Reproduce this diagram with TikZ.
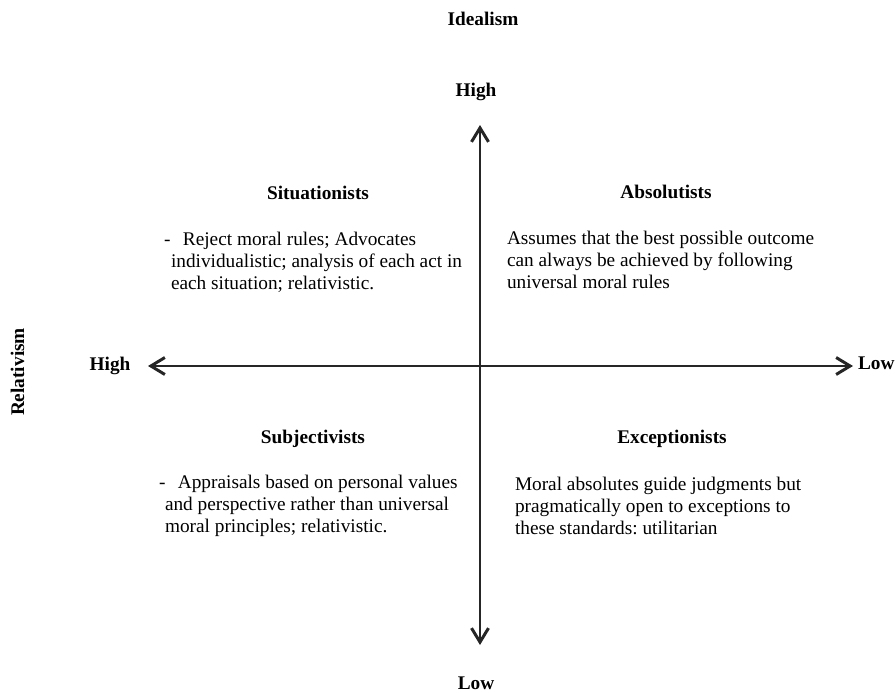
\documentclass[tikz,border=0pt]{standalone}
\usepackage{fontspec}
\setmainfont{Liberation Serif}
\usetikzlibrary{arrows.meta}
\frenchspacing
\begin{document}
\begin{tikzpicture}[x=1pt,y=-1pt,
  every node/.style={inner sep=0pt, outer sep=0pt, font=\fontsize{19.3}{22}\selectfont},
  heading/.style={anchor=base, font=\fontsize{19.3}{22}\selectfont\bfseries},
  % multi-line text: the base anchor sits on the last line
  bodytext/.style={anchor=base west, align=left},
  tip/.tip={Straight Barb[length=14pt,width=17pt,line width=3pt]},
  axis/.style={line width=1.2pt, draw=black!85, tip-tip}]
  \useasboundingbox (0,0) rectangle (895,693);

  % axis end points
  \coordinate (top) at (480,125);
  \coordinate (bottom) at (480,645);
  \coordinate (left) at (148,366);
  \coordinate (right) at (853,366);

  \draw[axis] (top) -- (bottom);
  \draw[axis] (left) -- (right);

  % axis titles and labels
  \node[heading] (idealism) at (483,26) {Idealism};
  \node[heading] (highv) at (476,96) {High};
  \node[heading] (lowv) at (476,689) {Low};
  \node[heading] (highh) at (110,370) {High};
  \node[heading, anchor=base west] (lowh) at (858,369) {Low};
  \node[heading, rotate=90] (relativism) at (24,372) {Relativism};

  % quadrant headings
  \node[heading] (situ) at (318,199) {Situationists};
  \node[heading] (abso) at (666,198) {Absolutists};
  \node[heading] (subj) at (313,443) {Subjectivists};
  \node[heading] (exce) at (672,443) {Exceptionists};

  % quadrant descriptions
  \node[bodytext] (situtext) at (171,289)
    {\hspace*{-7pt}-\hspace{12.5pt}Reject moral rules; Advocates\\
     individualistic; analysis of each act in\\
     each situation; relativistic.};
  \node[bodytext] (abstext) at (507,288)
    {Assumes that the best possible outcome\\
     can always be achieved by following\\
     universal moral rules};
  \node[bodytext] (subjtext) at (165,532)
    {\hspace*{-6pt}-\hspace{12.5pt}Appraisals based on personal values\\
     and perspective rather than universal\\
     moral principles; relativistic.};
  \node[bodytext] (excetext) at (515,534)
    {Moral absolutes guide judgments but\\
     pragmatically open to exceptions to\\
     these standards: utilitarian};
\end{tikzpicture}
\end{document}
